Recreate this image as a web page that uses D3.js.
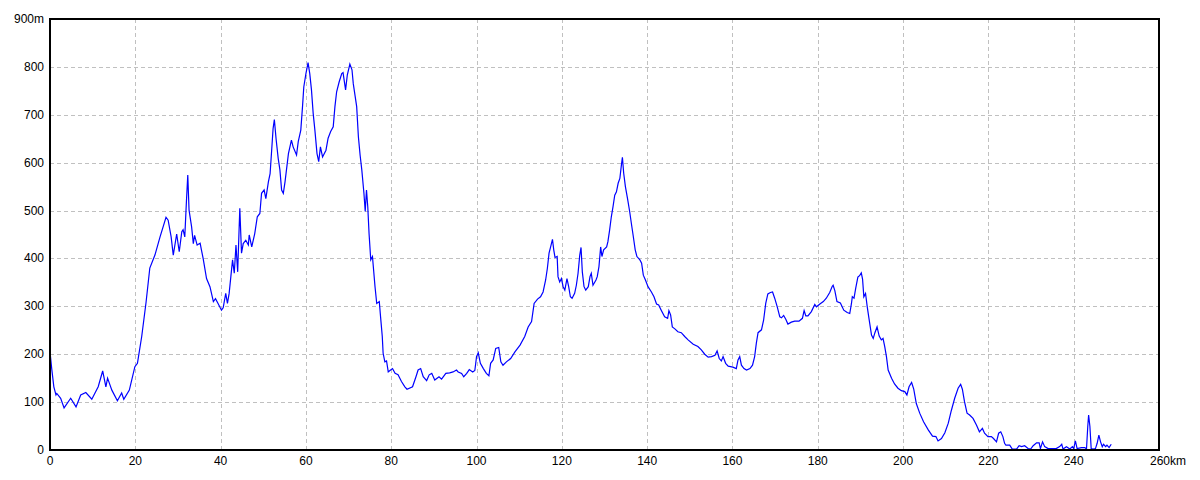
<!DOCTYPE html>
<html>
<head>
<meta charset="utf-8">
<script src="https://cdn.jsdelivr.net/npm/d3@7"></script>
<style>
  html, body { margin: 0; padding: 0; background: #fff; }
  svg { display: block; }
  .tick-label { font-family: "Liberation Sans", Arial, sans-serif; font-size: 12px; fill: #000; }
  .grid-line { stroke: #c0c0c0; stroke-width: 1; stroke-dasharray: 4,3; }
</style>
</head>
<body>
<svg id="chart" width="1200" height="480"></svg>
<script>
// elevation profile
const distanceKm = [
  0, 0.4, 0.9, 1.4, 1.6, 2.5, 3.3, 4.85, 6.1, 7.2, 8.4, 9.8, 11.3, 12.35, 13.1, 13.5, 14.5, 15.8, 16.8, 17.3,
  18.6, 19.9, 20.5, 21.5, 22.5, 23.4, 24.6, 25.8, 27.2, 27.7, 28.4, 28.9, 29.7, 30.3, 30.9, 31.2, 31.6, 32.0, 32.3, 32.6,
  33.2, 33.6, 33.9, 34.5, 35.2, 35.5, 35.9, 36.7, 37.5, 38.3, 38.8, 39.4, 40.2, 40.6, 41.2, 41.6, 42.0, 42.4, 42.8, 43.2,
  43.6, 44.0, 44.5, 44.9, 45.3, 45.9, 46.5, 46.7, 47.3, 48.0, 48.6, 49.2, 49.6, 50.2, 50.6, 51.2, 51.6, 52.0, 52.3, 52.6,
  53.0, 53.5, 53.9, 54.3, 54.7, 55.1, 55.9, 56.6, 57.0, 57.8, 58.2, 58.8, 59.2, 59.5, 60.0, 60.5, 60.9, 61.3, 61.7, 62.1,
  62.6, 63.0, 63.4, 63.9, 64.7, 65.2, 65.8, 66.4, 66.8, 67.2, 67.8, 68.4, 68.7, 69.3, 69.7, 70.3, 70.8, 71.1, 71.5, 71.9,
  72.3, 72.7, 73.1, 73.6, 73.9, 74.2, 74.5, 74.8, 75.2, 75.6, 76.2, 76.6, 77.2, 77.5, 77.9, 78.1, 78.5, 78.9, 79.3, 79.7,
  80.3, 80.9, 81.6, 82.4, 83.2, 83.7, 85.0, 85.8, 86.3, 86.9, 87.5, 88.3, 88.9, 89.5, 90.2, 91.2, 91.8, 92.8, 93.7, 94.5,
  95.3, 95.7, 96.5, 97.0, 97.7, 98.3, 99.1, 99.6, 100.0, 100.4, 100.9, 101.6, 102.3, 102.9, 103.3, 103.9, 104.5, 105.2, 105.7, 106.2,
  107.0, 108.0, 109.0, 110.2, 111.3, 112.1, 112.9, 113.5, 114.3, 115.0, 115.6, 116.2, 116.6, 117.0, 117.4, 117.8, 118.1, 118.4, 118.9, 119.1,
  119.5, 119.9, 120.3, 120.7, 121.2, 121.6, 122.0, 122.4, 123.0, 123.4, 123.8, 124.2, 124.5, 124.8, 125.2, 125.6, 126.2, 126.6, 126.9, 127.3,
  128.0, 128.3, 128.7, 129.1, 129.4, 129.8, 130.5, 130.8, 131.2, 131.6, 132.0, 132.4, 132.8, 133.2, 133.6, 134.0, 134.2, 134.5, 134.9, 135.4,
  135.9, 136.3, 136.7, 137.2, 137.6, 138.3, 138.7, 139.1, 139.6, 140.2, 141.0, 141.6, 142.2, 142.7, 143.3, 144.1, 144.8, 145.1, 145.5, 145.9,
  146.5, 147.2, 148.0, 148.8, 149.6, 150.8, 151.9, 152.7, 153.5, 154.3, 155.1, 155.9, 156.4, 156.9, 157.4, 157.8, 158.4, 159.0, 160.1, 160.9,
  161.3, 161.7, 162.1, 162.7, 163.3, 164.1, 164.7, 165.2, 165.6, 166.0, 166.8, 167.3, 167.8, 168.3, 168.9, 169.4, 169.9, 170.5, 171.1, 171.5,
  172.0, 172.5, 173.0, 173.8, 174.6, 175.6, 176.4, 176.8, 177.2, 177.7, 178.5, 179.3, 179.7, 180.5, 181.3, 182.0, 182.8, 183.4, 183.6, 184.0,
  184.5, 185.3, 186.1, 186.9, 187.5, 187.9, 188.1, 188.5, 188.9, 189.4, 189.8, 190.2, 190.5, 190.8, 191.2, 191.6, 192.0, 192.6, 193.0, 193.4,
  193.9, 194.4, 194.9, 195.3, 195.7, 196.1, 196.5, 197.3, 198.0, 198.8, 199.6, 200.4, 200.9, 201.4, 202.0, 202.5, 203.1, 203.9, 204.8, 205.9,
  206.9, 207.7, 208.2, 209.0, 209.8, 210.6, 211.3, 212.1, 212.9, 213.5, 213.9, 214.4, 215.0, 215.6, 216.4, 217.2, 217.9, 218.6, 219.1, 219.9,
  220.7, 221.2, 221.9, 222.4, 222.9, 223.4, 223.8, 224.1, 225.0, 225.6, 226.6, 227.2, 227.8, 228.5, 229.3, 229.9, 230.5, 231.3, 231.9, 232.2,
  232.7, 233.2, 234.0, 235.0, 235.9, 236.7, 237.2, 237.5, 238.3, 239.1, 239.7, 240.0, 240.4, 240.8, 241.8, 242.6, 243.0, 243.3, 243.5, 243.8,
  244.1, 244.5, 245.1, 245.5, 245.9, 246.3, 246.7, 247.0, 247.5, 247.8, 248.3, 248.8
];
const elevationM = [
  205, 170, 132, 115, 118, 108, 88, 108, 90, 115, 120, 106, 132, 165, 132, 150, 125, 103, 119, 106,
  125, 174, 181, 237, 307, 380, 407, 445, 486, 480, 445, 407, 451, 414, 456, 460, 445, 522, 574, 501,
  466, 431, 448, 428, 432, 418, 400, 358, 341, 310, 316, 306, 292, 297, 327, 306, 327, 362, 397, 369,
  428, 372, 505, 411, 431, 438, 428, 449, 424, 452, 487, 494, 536, 543, 525, 560, 577, 630, 671, 690,
  650, 609, 585, 543, 536, 560, 619, 647, 633, 616, 644, 668, 717, 758, 786, 809, 786, 752, 703, 668,
  619, 602, 633, 612, 626, 651, 665, 675, 717, 748, 769, 786, 788, 752, 783, 806, 794, 765, 741, 717,
  654, 616, 585, 536, 498, 543, 508, 452, 397, 404, 341, 306, 310, 278, 237, 202, 184, 186, 163, 166,
  170, 160, 157, 143, 132, 127, 132, 153, 167, 170, 153, 145, 157, 160, 146, 153, 148, 160, 161, 163,
  167, 163, 160, 153, 160, 168, 163, 166, 195, 203, 181, 170, 160, 155, 181, 188, 212, 214, 184, 177,
  184, 191, 205, 219, 237, 257, 268, 306, 315, 320, 330, 355, 379, 411, 425, 440, 418, 402, 404, 362,
  351, 358, 341, 334, 358, 341, 320, 317, 327, 344, 369, 407, 423, 372, 341, 334, 341, 362, 369, 344,
  355, 362, 383, 424, 404, 418, 424, 435, 459, 487, 508, 532, 539, 557, 567, 598, 611, 578, 550, 525,
  498, 473, 449, 418, 404, 397, 390, 365, 355, 341, 330, 320, 305, 303, 292, 278, 275, 291, 282, 257,
  253, 247, 245, 237, 230, 221, 216, 209, 200, 194, 195, 198, 207, 191, 186, 195, 181, 175, 173, 170,
  188, 195, 177, 170, 167, 170, 177, 195, 223, 245, 251, 271, 306, 326, 329, 330, 317, 299, 278, 276,
  281, 273, 263, 267, 269, 269, 275, 291, 280, 280, 289, 304, 299, 305, 310, 317, 329, 342, 344, 333,
  310, 307, 292, 287, 285, 306, 320, 317, 338, 361, 364, 370, 357, 320, 327, 299, 275, 240, 233, 245,
  257, 238, 230, 233, 216, 195, 167, 150, 138, 129, 124, 122, 115, 132, 141, 127, 97, 77, 59, 42,
  29, 28, 19, 24, 36, 56, 82, 108, 129, 137, 127, 101, 77, 73, 66, 52, 38, 45, 35, 28,
  28, 24, 17, 35, 38, 28, 14, 10, 10, 2, 2, 9, 7, 9, 3, 2, 9, 15, 15, 3,
  17, 7, 3, 3, 3, 7, 12, 2, 7, 2, 7, 3, 19, 3, 5, 5, 2, 49, 73, 49,
  3, 2, 3, 14, 31, 17, 7, 12, 7, 10, 5, 12
];
const xTicks = [0, 20, 40, 60, 80, 100, 120, 140, 160, 180, 200, 220, 240, 260];
const yTicks = [0, 100, 200, 300, 400, 500, 600, 700, 800, 900];

const svg = d3.select("#chart");
const m = { top: 19, right: 41, bottom: 30, left: 50 };
const W = 1200, H = 480;
const x = d3.scaleLinear().domain([0, 260]).range([m.left, W - m.right]);
const y = d3.scaleLinear().domain([0, 900]).range([H - m.bottom, m.top]);

// grid
svg.append("g").selectAll("line").data(xTicks.slice(1, -1)).join("line")
  .attr("class", "grid-line")
  .attr("x1", (d) => Math.round(x(d)) + 0.5).attr("x2", (d) => Math.round(x(d)) + 0.5)
  .attr("y1", y(900)).attr("y2", y(0));
svg.append("g").selectAll("line").data(yTicks.slice(1, -1)).join("line")
  .attr("class", "grid-line")
  .attr("x1", x(0)).attr("x2", x(260))
  .attr("y1", (d) => Math.round(y(d)) + 0.5).attr("y2", (d) => Math.round(y(d)) + 0.5);

// elevation line
const profile = distanceKm.map((d, i) => [d, elevationM[i]]);
svg.append("path").datum(profile)
  .attr("fill", "none").attr("stroke", "#0000ff").attr("stroke-width", 1.2)
  .attr("d", d3.line().x((d) => x(d[0])).y((d) => y(d[1])));

// frame
svg.append("rect")
  .attr("x", x(0)).attr("y", y(900))
  .attr("width", x(260) - x(0)).attr("height", y(0) - y(900))
  .attr("fill", "none").attr("stroke", "#000").attr("stroke-width", 2);

// axes labels
svg.append("g").selectAll("text").data(xTicks).join("text")
  .attr("class", "tick-label")
  .attr("x", (d) => x(d) + (d === 260 ? -9 : 0))
  .attr("y", y(0) + 15)
  .attr("text-anchor", (d) => d === 260 ? "start" : "middle")
  .text((d) => d === 260 ? d + "km" : d);
svg.append("g").selectAll("text").data(yTicks).join("text")
  .attr("class", "tick-label")
  .attr("x", x(0) - 6)
  .attr("y", (d) => y(d) + 4)
  .attr("text-anchor", "end")
  .text((d) => d === 900 ? d + "m" : d);
</script>
</body>
</html>
